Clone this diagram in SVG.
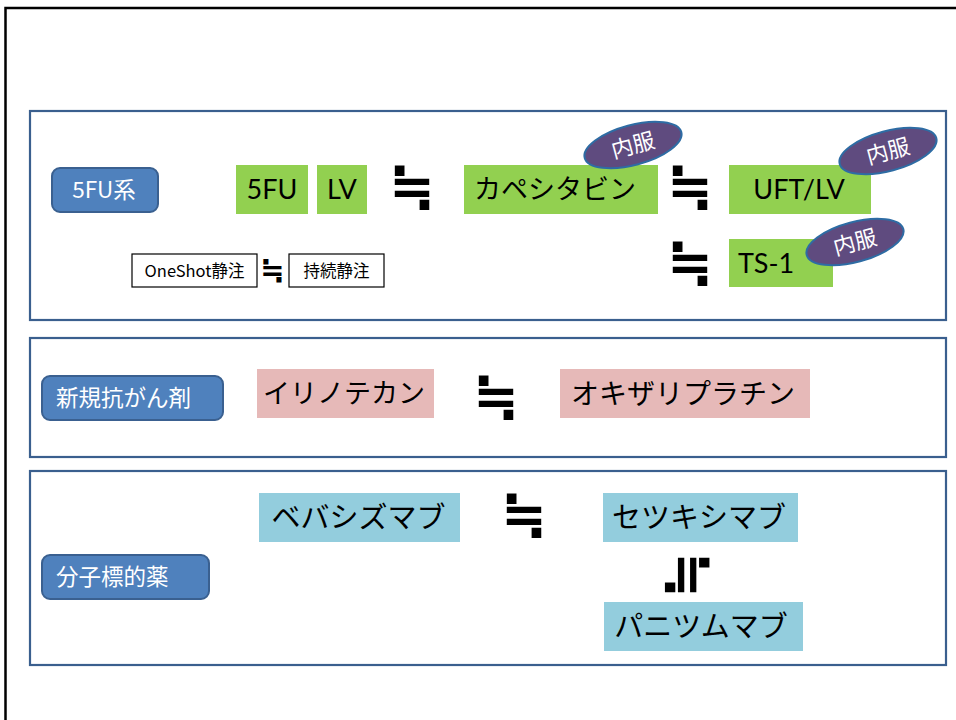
<svg xmlns="http://www.w3.org/2000/svg" width="956" height="720" viewBox="0 0 956 720">
<style>
.frame{fill:none;stroke:#000;stroke-width:2.5}
.panel{fill:#fff;stroke:#3A5F8E;stroke-width:2.2}
.lbl{fill:#4F81BD;stroke:#3A6090;stroke-width:2}
.lt{fill:#fff;font-family:"Noto Sans CJK JP",sans-serif;font-size:22.5px}
.g{fill:#92D050}
.p{fill:#E6B9B8}
.b{fill:#93CDDD}
.w{fill:#fff;stroke:#000;stroke-width:1.2}
.t{fill:#000;font-family:Lato,"Noto Sans CJK JP",sans-serif;font-size:27px}
.tk{fill:#000;font-family:"Noto Sans CJK JP",sans-serif}
.st{fill:#000;font-family:"Noto Sans CJK JP",sans-serif;font-size:16.5px}
.ov{fill:#5F4B7F;stroke:#2E6CA4;stroke-width:2}
.ot{fill:#fff;font-family:"Noto Sans CJK JP",sans-serif;font-size:22px}
.eq{fill:#000;font-family:"DejaVu Sans",sans-serif;font-weight:bold}
</style>
<rect class="frame" x="5.5" y="8" width="1000" height="800"/>
<rect class="panel" x="30" y="111" width="916" height="209"/>
<rect class="panel" x="30" y="338" width="916" height="119"/>
<rect class="panel" x="30" y="471" width="916" height="194"/>

<g id="label-5fu"><rect class="lbl" x="52" y="168" width="106" height="44" rx="8"/><text class="lt" x="104" y="198" text-anchor="middle">5FU系</text></g>
<g id="label-new"><rect class="lbl" x="42" y="376" width="181" height="44" rx="8"/><text class="lt" x="56" y="406">新規抗がん剤</text></g>
<g id="label-mol"><rect class="lbl" x="42" y="555" width="167" height="44" rx="8"/><text class="lt" x="56" y="585">分子標的薬</text></g>

<g id="n-5fu"><rect class="g" x="236" y="165" width="72" height="49"/><text class="t" x="272" y="199" text-anchor="middle">5FU</text></g>
<g id="n-lv"><rect class="g" x="317" y="165" width="50" height="49"/><text class="t" x="342" y="199" text-anchor="middle">LV</text></g>
<g id="n-cape"><rect class="g" x="464" y="165" width="194" height="49"/><text class="tk" font-size="27" x="555" y="199" text-anchor="middle">カペシタビン</text></g>
<g id="n-uft"><rect class="g" x="729" y="165" width="142" height="49"/><text class="t" x="799" y="199" text-anchor="middle">UFT/LV</text></g>
<g id="n-ts1"><rect class="g" x="729" y="239" width="104" height="48"/><text class="t" x="738" y="273">TS-1</text></g>
<g id="n-oneshot"><rect class="w" x="132" y="254" width="125" height="33"/><text class="st" x="194.5" y="276.5" text-anchor="middle">OneShot静注</text></g>
<g id="n-cont"><rect class="w" x="289" y="254" width="95" height="33"/><text class="st" x="336.5" y="276.5" text-anchor="middle">持続静注</text></g>

<g id="oral-1"><ellipse class="ov" cx="633" cy="145" rx="50" ry="20" transform="rotate(-15 633 145)"/><text class="ot" x="633" y="153" text-anchor="middle" transform="rotate(-15 633 145)">内服</text></g>
<g id="oral-2"><ellipse class="ov" cx="888" cy="151" rx="50" ry="20" transform="rotate(-15 888 151)"/><text class="ot" x="888" y="159" text-anchor="middle" transform="rotate(-15 888 151)">内服</text></g>
<g id="oral-3"><ellipse class="ov" cx="855" cy="242" rx="50" ry="20" transform="rotate(-15 855 242)"/><text class="ot" x="855" y="250" text-anchor="middle" transform="rotate(-15 855 242)">内服</text></g>

<g id="n-iri"><rect class="p" x="257" y="369" width="177" height="49"/><text class="tk" font-size="27" x="344" y="403" text-anchor="middle">イリノテカン</text></g>
<g id="n-oxa"><rect class="p" x="560" y="369" width="250" height="49"/><text class="tk" font-size="28" x="683" y="403.5" text-anchor="middle">オキザリプラチン</text></g>

<g id="n-bev"><rect class="b" x="259" y="493" width="201" height="49"/><text class="tk" font-size="29" x="358.5" y="528" text-anchor="middle">ベバシズマブ</text></g>
<g id="n-cet"><rect class="b" x="603" y="493" width="195" height="49"/><text class="tk" font-size="29" x="699" y="528" text-anchor="middle">セツキシマブ</text></g>
<g id="n-pan"><rect class="b" x="604" y="602" width="199" height="49"/><text class="tk" font-size="29" x="701" y="637" text-anchor="middle">パニツムマブ</text></g>

<g id="connectors">
<text class="eq" font-size="55" x="412" y="205" text-anchor="middle">≒</text>
<text class="eq" font-size="55" x="690" y="205" text-anchor="middle">≒</text>
<text class="eq" font-size="55" x="690" y="281" text-anchor="middle">≒</text>
<text class="eq" font-size="29" x="272.5" y="279.5" text-anchor="middle">≒</text>
<text class="eq" font-size="55" x="496" y="415" text-anchor="middle">≒</text>
<text class="eq" font-size="55" x="524" y="533" text-anchor="middle">≒</text>
<text class="eq" font-size="55" x="688" y="593" text-anchor="middle" transform="rotate(90 688 575)">≒</text>
</g>
</svg>
